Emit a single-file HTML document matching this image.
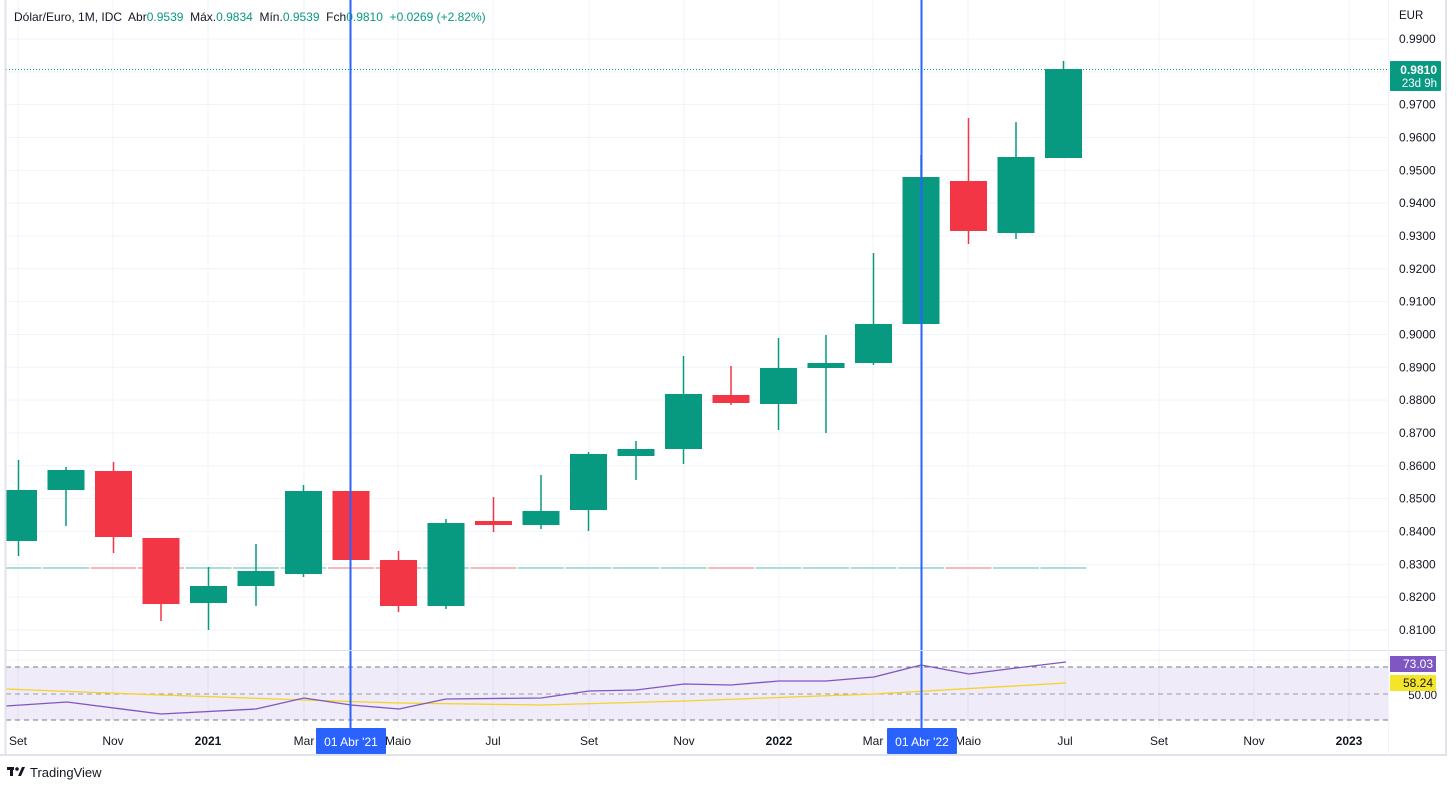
<!DOCTYPE html>
<html><head><meta charset="utf-8"><style>
html,body{margin:0;padding:0;background:#fff;width:1456px;height:790px;overflow:hidden}
svg{display:block;font-family:"Liberation Sans",sans-serif}
</style></head><body>
<svg id="s" width="1456" height="790" xmlns="http://www.w3.org/2000/svg">
<rect x="0" y="0" width="1456" height="790" fill="#fff"/>
<g id="grid"></g>
<rect x="6" y="667" width="1382" height="53" fill="#7e57c2" fill-opacity="0.12"/>
<line x1="6" y1="667" x2="1388" y2="667" stroke="#787b86" stroke-dasharray="5,4"/>
<line x1="6" y1="694" x2="1388" y2="694" stroke="#9a9ca4" stroke-dasharray="5,4"/>
<line x1="6" y1="720" x2="1388" y2="720" stroke="#787b86" stroke-dasharray="5,4"/>
<g id="vol"></g>
<g id="candles"></g>
<polyline fill="none" stroke="#f5d327" stroke-width="1.3" points="6,689 161,695 304,700 399,703 541,705 684,701 874,694 1066,683"/>
<polyline fill="none" stroke="#7e57c2" stroke-width="1.3" points="6,706 67,702 161,714 256,709 304,698 351,705 399,709 446,699 541,698 589,691 636,690 684,684 731,685 779,681 826,681 874,677 921,665 969,674 1016,668 1066,662"/>
<line x1="6" y1="69.5" x2="1388" y2="69.5" stroke="#089981" stroke-dasharray="1,2"/>
<line x1="350.5" y1="0" x2="350.5" y2="728" stroke="#2962ff" stroke-width="2"/>
<line x1="921.5" y1="0" x2="921.5" y2="728" stroke="#2962ff" stroke-width="2"/>
<line x1="5.5" y1="0" x2="5.5" y2="755" stroke="#e0e3eb" stroke-width="2"/>
<line x1="1446" y1="0" x2="1446" y2="755" stroke="#e0e3eb" stroke-width="2"/>
<line x1="0" y1="755" x2="1447" y2="755" stroke="#e0e3eb" stroke-width="2"/>
<line x1="6" y1="650.5" x2="1446" y2="650.5" stroke="#e0e3eb" stroke-width="1"/>
<line x1="1388.5" y1="0" x2="1388.5" y2="755" stroke="#f0f3fa" stroke-width="1"/>
<g id="labels" font-size="12" fill="#131722"></g>
<text x="1399" y="19" font-size="11.5" fill="#131722">EUR</text>
<rect x="1390" y="61" width="51" height="30" fill="#089981" rx="1"/>
<text x="1437" y="74" font-size="12" font-weight="bold" fill="#fff" text-anchor="end">0.9810</text>
<text x="1437" y="87" font-size="11.5" fill="#fff" text-anchor="end">23d 9h</text>
<text x="1437" y="699" font-size="11.5" fill="#131722" text-anchor="end">50.00</text>
<rect x="1390" y="656" width="46" height="16" fill="#7e57c2"/>
<text x="1433" y="668" font-size="12" fill="#fff" text-anchor="end">73.03</text>
<rect x="1390" y="675" width="46" height="16" fill="#f5e52a"/>
<text x="1433" y="687" font-size="12" fill="#131722" text-anchor="end">58.24</text>
<rect x="316" y="728" width="70" height="26" fill="#2962ff" rx="1"/>
<text x="351" y="746" font-size="12" fill="#fff" text-anchor="middle">01 Abr '21</text>
<rect x="887" y="728" width="70" height="26" fill="#2962ff" rx="1"/>
<text x="922" y="746" font-size="12" fill="#fff" text-anchor="middle">01 Abr '22</text>
<text x="14" y="21" font-size="12" fill="#131722" xml:space="preserve">Dólar/Euro, 1M, IDC  Abr<tspan fill="#089981">0.9539</tspan>  Máx.<tspan fill="#089981">0.9834</tspan>  Mín.<tspan fill="#089981">0.9539</tspan>  Fch<tspan fill="#089981">0.9810  +0.0269 (+2.82%)</tspan></text>
<g transform="translate(7,767)" fill="#131722"><rect x="0" y="0" width="7" height="3"/><rect x="3" y="0" width="3" height="9"/><circle cx="10" cy="2" r="1.8"/><polygon points="11,9 15,0 18,0 14,9"/></g>
<text x="30" y="777" font-size="13" fill="#131722">TradingView</text>
</svg>
<script>
var NS="http://www.w3.org/2000/svg";
function el(p,t,a,txt){var e=document.createElementNS(NS,t);for(var k in a)e.setAttribute(k,a[k]);if(txt)e.textContent=txt;document.getElementById(p).appendChild(e);return e;}
for(var i=0;i<19;i++){var y=39+i*32.83;el("grid","line",{x1:6,x2:1388,y1:y,y2:y,stroke:"#f0f3fa"});el("labels","text",{x:1399,y:y+4},(0.99-i*0.01).toFixed(4));}
var tl=[["Set",18],["Nov",113],["2021",208,1],["Mar",304],["Maio",398],["Jul",493],["Set",589],["Nov",684],["2022",779,1],["Mar",873],["Maio",968],["Jul",1065],["Set",1159],["Nov",1254],["2023",1349,1]];
tl.forEach(function(t){el("grid","line",{x1:t[1],x2:t[1],y1:0,y2:728,stroke:"#f0f3fa"});var a={x:t[1],y:745,"text-anchor":"middle"};if(t[2])a["font-weight"]="bold";el("labels","text",a,t[0]);});
el("grid","line",{x1:6,x2:1388,y1:660,y2:660,stroke:"#f0f3fa"});
var c=[[1,490,541,460,556],[1,470,490,467,526],[0,471,537,462,553],[0,538,604,538,621],[1,586,603,567,630],[1,571,586,544,606],[1,491,574,485,577],[0,491,560,491,560],[0,560,606,551,612],[1,523,606,519,609],[0,521,525,497,532],[1,511,525,475,529],[1,454,510,452,531],[1,449,456,441,480],[1,394,449,356,464],[0,395,403,366,405],[1,368,404,338,430],[1,363,368,335,433],[1,324,363,253,365],[1,177,324,155,324],[0,181,231,118,244],[1,157,233,122,239],[1,69,158,61,158]];
c.forEach(function(d,i){var x=18.5+47.5*i,col=d[0]?"#089981":"#f23645";
el("vol","line",{x1:Math.max(6,x-23),x2:x+23,y1:568,y2:568,stroke:d[0]?"#8fd3c8":"#f9a0a6","stroke-width":1.5});
el("candles","line",{x1:x,x2:x,y1:d[3],y2:d[4],stroke:col,"stroke-width":1.5});
var x0=Math.max(6,x-18.5);el("candles","rect",{x:x0,y:d[1],width:x+18.5-x0,height:Math.max(2,d[2]-d[1]),fill:col});});
</script>
</body></html>
